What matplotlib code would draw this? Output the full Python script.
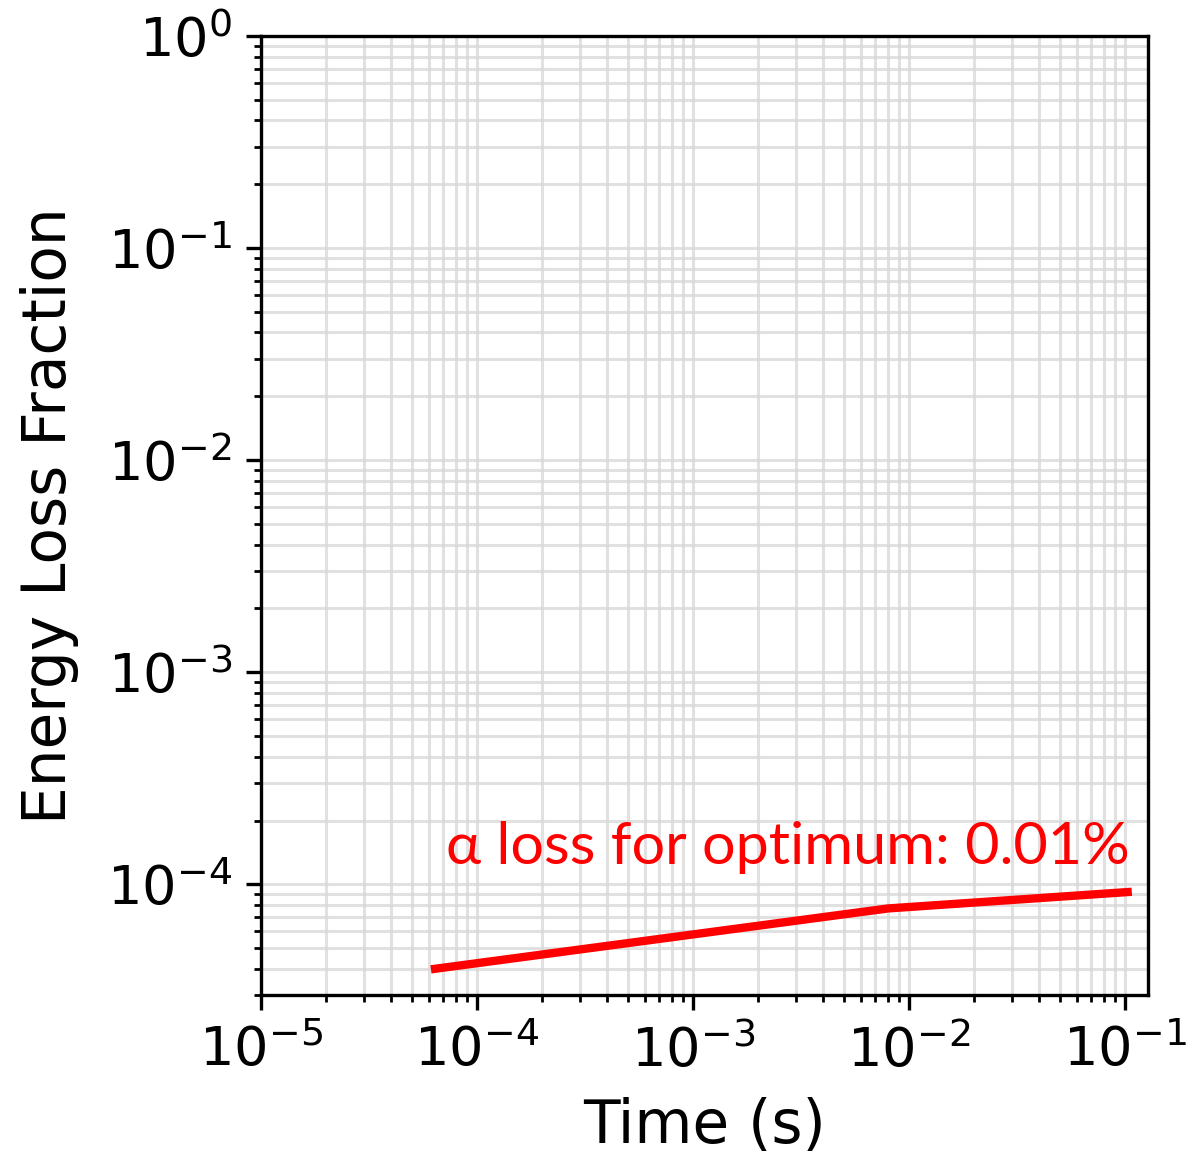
import numpy as np
import matplotlib
matplotlib.use('Agg')
import matplotlib.pyplot as plt

# data
time_s = [6.4e-5, 8.0e-3, 0.103]
loss_frac = [4.0e-5, 7.7e-5, 9.2e-5]
label_text = 'α loss for optimum: 0.01%'

fig = plt.figure(figsize=(5.93, 5.8), dpi=200)
ax = fig.add_axes([0.22, 0.142, 0.748, 0.827])

ax.plot(time_s, loss_frac, color='red', linewidth=3.0)
ax.set_xscale('log')
ax.set_yscale('log')
ax.set_xlim(1e-5, 0.128)
ax.set_ylim(3e-5, 1)

ax.grid(True, which='both', color='#d8d8d8', linewidth=1.1, alpha=0.75)
ax.set_axisbelow(True)

for s in ax.spines.values():
    s.set_linewidth(1.2)
ax.tick_params(which='major', length=5.5, width=1.2, labelsize=19.5, pad=5)
ax.tick_params(which='minor', length=2.5, width=1.0)
ax.xaxis.set_major_locator(matplotlib.ticker.LogLocator(base=10, numticks=20))
ax.yaxis.set_major_locator(matplotlib.ticker.LogLocator(base=10, numticks=20))
ax.xaxis.set_minor_locator(matplotlib.ticker.LogLocator(base=10, subs=np.arange(2, 10), numticks=20))
ax.yaxis.set_minor_locator(matplotlib.ticker.LogLocator(base=10, subs=np.arange(2, 10), numticks=20))
ax.xaxis.set_minor_formatter(matplotlib.ticker.NullFormatter())
ax.yaxis.set_minor_formatter(matplotlib.ticker.NullFormatter())

ax.set_xlabel('Time (s)', fontsize=21.5, labelpad=7)
ax.set_ylabel('Energy Loss Fraction', fontsize=21.5, labelpad=10)

ax.text(0.105, 1.5e-4, label_text, color='red', fontsize=21.4,
        family=['Lato', 'DejaVu Sans'], ha='right', va='center')

fig.savefig('out.png', dpi=200)
